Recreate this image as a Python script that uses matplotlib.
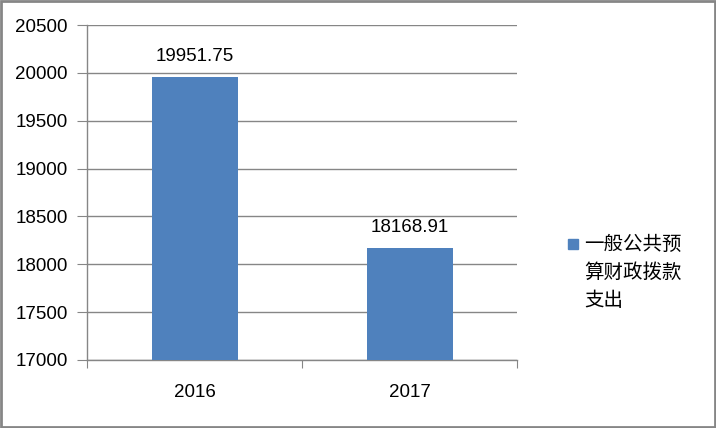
import matplotlib
matplotlib.use("Agg")
import matplotlib.pyplot as plt
from matplotlib.patches import Rectangle

categories = ["2016", "2017"]
values = [19951.75, 18168.91]
value_labels = ["19951.75", "18168.91"]
yticks = [17000, 17500, 18000, 18500, 19000, 19500, 20000, 20500]
legend_lines = ["一般公共预", "算财政拨款", "支出"]

plt.rcParams['font.family'] = ['Liberation Sans', 'Noto Sans CJK SC', 'DejaVu Sans']

fig = plt.figure(figsize=(7.16, 4.28), dpi=100)
ax = fig.add_axes([87/716, 1-360/428, 430/716, 335/428])

bar_color = "#4F81BD"
grid_color = "#868686"
xs = list(range(len(categories)))
ax.bar(xs, values, width=0.4, color=bar_color, zorder=3, bottom=0)
ax.set_xlim(-0.5, len(categories)-0.5)
ax.set_ylim(17000, 20500)
ax.set_yticks(yticks)
ax.set_yticklabels([str(t) for t in yticks], fontsize=13.5)
ax.yaxis.grid(True, color=grid_color, linewidth=1, zorder=0)
ax.set_axisbelow(True)

# x ticks at category boundaries, labels at centers
ax.set_xticks([-0.5, 0.5, 1.5])
ax.set_xticklabels([])
ax.set_xticks(xs, minor=True)
ax.set_xticklabels(categories, minor=True, fontsize=13.5)
ax.tick_params(axis='x', which='major', length=6, color=grid_color, direction='out')
ax.tick_params(axis='x', which='minor', length=0, pad=17)
ax.tick_params(axis='y', length=7, color=grid_color, pad=7)

for s in ['top', 'right']:
    ax.spines[s].set_visible(False)
for s in ['left', 'bottom']:
    ax.spines[s].set_color(grid_color)
    ax.spines[s].set_linewidth(1)

for x, v, lab in zip(xs, values, value_labels):
    ax.annotate(lab, (x, v), xytext=(0, 9), textcoords='offset points',
                ha='center', va='bottom', fontsize=13.5)

# legend
fig.patches.append(Rectangle((568/716, 1-249/428), 10/716, 10/428,
                             transform=fig.transFigure, color=bar_color, figure=fig))
for i, line in enumerate(legend_lines):
    fig.text(584/716, 1-(244+28.5*i)/428, line, fontsize=14,
             family=['Noto Sans CJK SC', 'DejaVu Sans'], va='center', ha='left')

# figure border
fig.patches.append(Rectangle((0.001, 0.002), 0.997, 0.995, transform=fig.transFigure,
                             fill=False, edgecolor="#868686", linewidth=2, figure=fig))

fig.savefig("out.png", dpi=100)
